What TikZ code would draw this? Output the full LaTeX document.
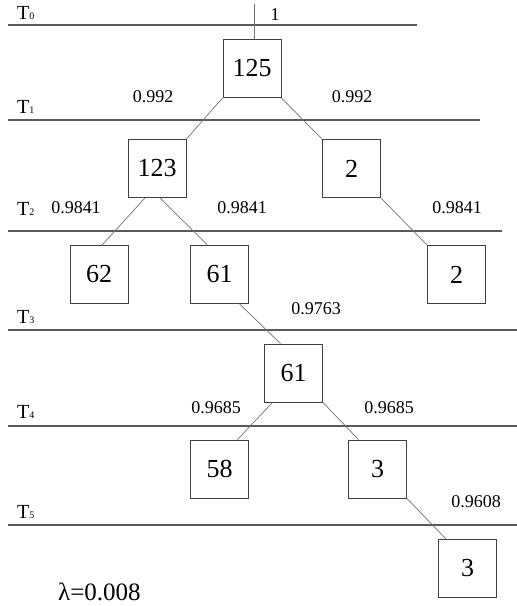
\documentclass[tikz,border=0pt]{standalone}
\usepackage{fontspec}
\setmainfont{Liberation Serif}
\begin{document}
\begin{tikzpicture}[x=1pt,y=-1pt,
  box/.style={draw=black!75, line width=0.9pt, minimum width=58pt, minimum height=58pt, inner sep=0pt, font=\fontsize{26}{26}\selectfont},
  lvl/.style={draw=black!65, line width=1.1pt},
  conn/.style={draw=black!55, line width=0.7pt},
  prob/.style={font=\fontsize{18}{18}\selectfont, inner sep=0pt, anchor=base},
  tlab/.style={font=\fontsize{20}{20}\selectfont, inner sep=0pt, anchor=base west}]
\useasboundingbox (0,0) rectangle (517,606);
% level lines
\coordinate (L0a) at (8,25);  \coordinate (L0b) at (417,25);
\coordinate (L1a) at (8,120); \coordinate (L1b) at (480,120);
\coordinate (L2a) at (8,231); \coordinate (L2b) at (502,231);
\coordinate (L3a) at (8,330); \coordinate (L3b) at (517,330);
\coordinate (L4a) at (8,426); \coordinate (L4b) at (517,426);
\coordinate (L5a) at (8,525); \coordinate (L5b) at (517,525);
\draw[lvl] (L0a) -- (L0b);
\draw[lvl] (L1a) -- (L1b);
\draw[lvl] (L2a) -- (L2b);
\draw[lvl] (L3a) -- (L3b);
\draw[lvl] (L4a) -- (L4b);
\draw[lvl] (L5a) -- (L5b);
\newcommand{\tl}[1]{T{\fontsize{10}{10}\selectfont #1}}
\node[tlab] (t0) at (17,19) {\tl{0}};
\node[tlab] (t1) at (17,113) {\tl{1}};
\node[tlab] (t2) at (17,215) {\tl{2}};
\node[tlab] (t3) at (17,323) {\tl{3}};
\node[tlab] (t4) at (17,418) {\tl{4}};
\node[tlab] (t5) at (17,518) {\tl{5}};
% boxes
\node[box] (n125) at (252,68.5) {125};
\node[box] (n123) at (157,168.5) {123};
\node[box] (n2a) at (351.5,168.5) {2};
\node[box] (n62) at (99,274.5) {62};
\node[box] (n61a) at (219.5,274.5) {61};
\node[box] (n2b) at (456.5,274.5) {2};
\node[box] (n61b) at (293.5,373) {61};
\node[box] (n58) at (219.5,469) {58};
\node[box] (n3a) at (377.5,469) {3};
\node[box] (n3b) at (467.5,568.5) {3};
% connectors
\coordinate (top) at (254,4);
\draw[conn] (top) -- (n125.north -| top);
\draw[conn] (n125.south west) -- (n123.north east);
\draw[conn] (n125.south east) -- (n2a.north west);
\draw[conn] ([xshift=-12pt]n123.south) -- ([xshift=3pt]n62.north);
\draw[conn] ([xshift=3pt]n123.south) -- ([xshift=-12pt]n61a.north);
\draw[conn] (n2a.south east) -- (n2b.north west);
\draw[conn] ([xshift=20pt]n61a.south) -- ([xshift=-13pt]n61b.north);
\draw[conn] ([xshift=-21pt]n61b.south) -- ([xshift=18pt]n58.north);
\draw[conn] (n61b.south east) -- ([xshift=-19pt]n3a.north);
\draw[conn] (n3a.south east) -- ([xshift=8pt]n3b.north west);
% probabilities
\node[prob] (p0) at (275,20) {1};
\node[prob] (p1a) at (153,102) {0.992};
\node[prob] (p1b) at (352,102) {0.992};
\node[prob] (p2a) at (76,213) {0.9841};
\node[prob] (p2b) at (242,213) {0.9841};
\node[prob] (p2c) at (457,213) {0.9841};
\node[prob] (p3) at (316,314) {0.9763};
\node[prob] (p4a) at (216,413) {0.9685};
\node[prob] (p4b) at (389,413) {0.9685};
\node[prob] (p5) at (476,507) {0.9608};
\node[font=\fontsize{25}{25}\selectfont, inner sep=0pt, anchor=base west] (lam) at (58,600) {λ=0.008};
\end{tikzpicture}
\end{document}
